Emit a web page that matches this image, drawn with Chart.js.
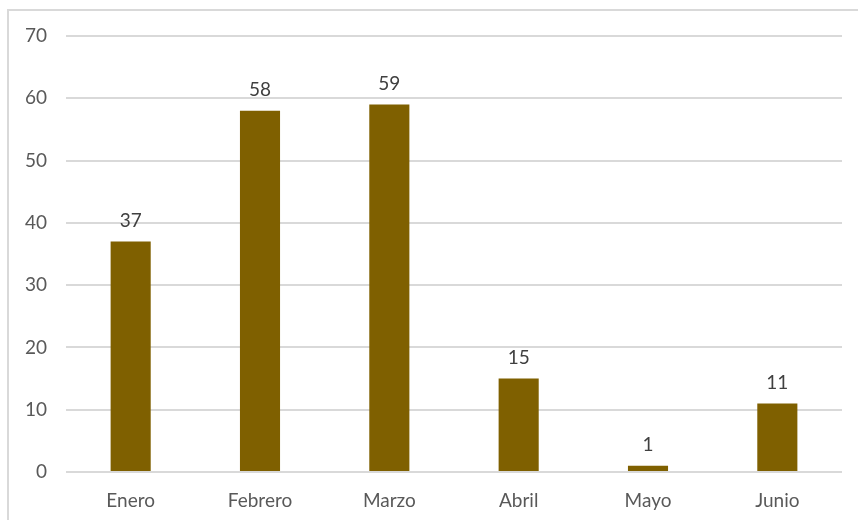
<!DOCTYPE html>
<html>
<head>
<meta charset="utf-8">
<script src="https://cdn.jsdelivr.net/npm/chart.js@4"></script>
<style>
  html, body { margin: 0; padding: 0; background: #fff; }
  #frame { position: absolute; left: 7px; top: 9px; width: 860px; height: 520px;
           border-left: 2px solid #d9d9d9; border-top: 2px solid #d9d9d9; }
  #wrap { position: absolute; left: 0; top: 0; width: 858px; height: 520px; }
</style>
</head>
<body>
<div id="frame"></div>
<div id="wrap"><canvas id="chart"></canvas></div>
<script>
const months = ['Enero', 'Febrero', 'Marzo', 'Abril', 'Mayo', 'Junio'];
const counts = [37, 58, 59, 15, 1, 11];
const yTicks = [0, 10, 20, 30, 40, 50, 60, 70];

const FONT = "Lato, 'Open Sans', sans-serif";

// dibuja el valor encima de cada barra
const valueLabels = {
  id: 'valueLabels',
  afterDatasetsDraw(chart) {
    const ctx = chart.ctx;
    const meta = chart.getDatasetMeta(0);
    ctx.save();
    ctx.font = '19px ' + FONT;
    ctx.fillStyle = '#404040';
    ctx.textAlign = 'center';
    ctx.textBaseline = 'bottom';
    meta.data.forEach((bar, i) => {
      ctx.fillText(chart.data.datasets[0].data[i], bar.x, bar.y - 11);
    });
    ctx.restore();
  }
};

new Chart(document.getElementById('chart'), {
  type: 'bar',
  data: {
    labels: months,
    datasets: [{
      data: counts,
      backgroundColor: '#7f6000',
      borderWidth: 0,
      barPercentage: 0.31,
      categoryPercentage: 1
    }]
  },
  options: {
    responsive: true,
    maintainAspectRatio: false,
    animation: false,
    layout: { padding: { top: 36, right: 16, left: 0, bottom: 0 } },
    plugins: {
      legend: { display: false },
      tooltip: { enabled: false }
    },
    scales: {
      x: {
        grid: { display: false },
        border: { display: false },
        ticks: { color: '#595959', font: { family: FONT, size: 19 }, padding: 9 },
        afterFit: s => { s.height = 48; }
      },
      y: {
        min: 0,
        max: 70,
        afterBuildTicks: s => { s.ticks = yTicks.map(v => ({ value: v })); },
        grid: { color: '#d9d9d9', lineWidth: 2, drawTicks: false },
        border: { display: false },
        ticks: { color: '#595959', font: { family: FONT, size: 19 }, padding: 19 },
        afterFit: s => { s.width = 66; }
      }
    }
  },
  plugins: [valueLabels]
});
</script>
</body>
</html>
